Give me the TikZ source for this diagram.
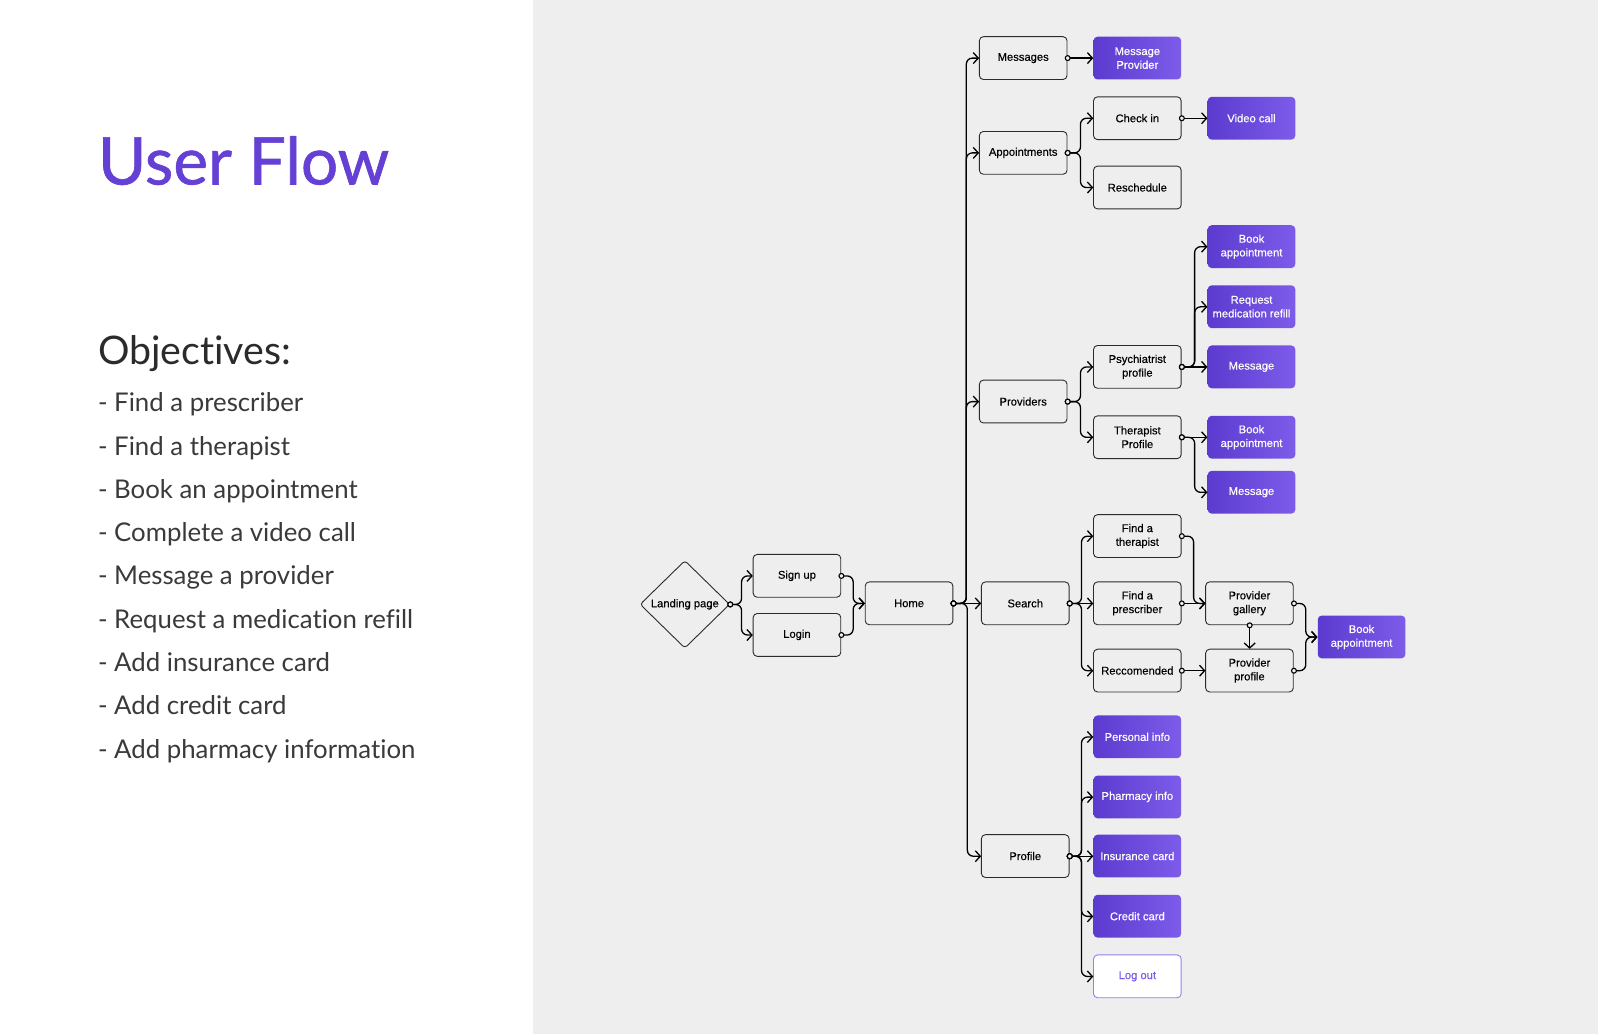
\documentclass[tikz,border=0pt]{standalone}
\usepackage{fontspec}
\setmainfont{Liberation Sans}[FakeBold=0.35]
\newfontfamily\latofont{Lato}[Ligatures=NoCommon]
\newfontfamily\latoheavy{Lato}[Ligatures=NoCommon,FakeBold=0.9]
\usepackage{tikz}
\usetikzlibrary{positioning}
\usetikzlibrary{arrows.meta,shapes.geometric}
\usetikzlibrary{calc}
\definecolor{panel}{HTML}{EEEEEE}
\definecolor{ink}{HTML}{2B2B2B}
\definecolor{listink}{HTML}{3A3A3A}
\definecolor{purpleL}{HTML}{5B3BCF}
\definecolor{purpleR}{HTML}{7D5CEA}
\definecolor{titlepurple}{HTML}{6440D4}
\tikzstyle{screen}=[rectangle,rounded corners=4pt,draw=ink,fill=panel,line width=0.9pt,minimum width=86pt,minimum height=42pt,inner sep=1pt,align=center,font=\fontsize{11}{13.5}\selectfont,text=black]
\tikzstyle{action}=[screen,draw=none,left color=purpleL,right color=purpleR,text=white]
\tikzstyle{exitbox}=[screen,draw=purpleR!80,fill=white,text=purpleR]
\tikzstyle{decision}=[diamond,rounded corners=3pt,draw=ink,fill=panel,line width=0.9pt,minimum width=88pt,minimum height=86pt,inner sep=0pt,font=\fontsize{11}{13.5}\selectfont]
\tikzstyle{link}=[draw,line width=1.3pt,rounded corners=6pt,shorten <=-3pt,{Circle[fill=panel,length=6pt,width=6pt,line width=1.1pt]}-{Straight Barb[length=5pt,width=11pt]}]
\tikzstyle{goal}=[anchor=base west,inner sep=0pt,text=listink,font=\latofont\fontsize{25.3}{30}\selectfont]

\begin{document}
\begin{tikzpicture}[x=1pt,y=-1pt,scale=1.0191,every node/.append style={transform shape}]
    % Background panels
    \fill[white] (0,0) rectangle (523,1014.6);
    \fill[panel] (523,0) rectangle (1568,1014.6);
    \useasboundingbox (0,0) rectangle (1568,1014.6);

    % Left side text
    \node[anchor=base west,inner sep=0pt,text=titlepurple,font=\latoheavy\fontsize{64.5}{70}\selectfont] (title) at (96,181) {User Flow};
    \node[anchor=base west,inner sep=0pt,text=ink,font=\latofont\fontsize{38.6}{44}\selectfont] (objectives) at (96,358) {Objectives:};
    \foreach \i/\goaltext in {0/Find a prescriber, 1/Find a therapist, 2/Book an appointment, 3/Complete a video call, 4/Message a provider, 5/Request a medication refill, 6/Add insurance card, 7/Add credit card, 8/Add pharmacy information}
        \node[goal] (goal\i) at (96,404+42.5*\i) {- \goaltext};

    % First we draw the screens
    \node[decision] (land) at (672,593) {Landing page};
    \foreach \pos/\name/\label in {{(782,565)/signup/Sign up}, {(782,623)/login/Login}, {(892,592)/home/Home}, {(1004,57)/msgs/Messages}, {(1004,150)/appts/Appointments}, {(1004,394)/provs/Providers}, {(1006,592)/search/Search}, {(1006,840)/profile/Profile}, {(1116,116)/checkin/Check in}, {(1116,184)/resched/Reschedule}, {(1116,360)/psych/{Psychiatrist\\profile}}, {(1116,429)/ther/{Therapist\\Profile}}, {(1116,526)/findther/{Find a\\therapist}}, {(1116,592)/findpres/{Find a\\prescriber}}, {(1116,658)/recc/Reccomended}, {(1226,592)/gallery/{Provider\\gallery}}, {(1226,658)/provprof/{Provider\\profile}}}
        \node[screen] (\name) at \pos {\label};
    % Then the actions
    \foreach \pos/\name/\label in {{(1116,57)/msgprov/{Message\\Provider}}, {(1228,116)/video/Video call}, {(1228,242)/bookA/{Book\\appointment}}, {(1228,301)/refill/{Request\\medication refill}}, {(1228,360)/msgA/Message}, {(1228,429)/bookB/{Book\\appointment}}, {(1228,483)/msgB/Message}, {(1336,625)/bookC/{Book\\appointment}}, {(1116,723)/personal/Personal info}, {(1116,782)/pharmacy/Pharmacy info}, {(1116,840)/insurance/Insurance card}, {(1116,899)/credit/Credit card}}
        \node[action] (\name) at \pos {\label};
    \node[exitbox] (logout) at (1116,958) {Log out};

    % Connect screens with links: bent ones
    \foreach \source/\dest in {land/signup, land/login, signup/home, login/home, home/msgs, home/appts, home/provs, home/profile, appts/checkin, appts/resched, provs/psych, provs/ther, psych/bookA, psych/refill, ther/msgB, search/findther, search/recc, findther/gallery, gallery/bookC, provprof/bookC, profile/personal, profile/pharmacy, profile/credit, profile/logout}
        \path[link] (\source.east) -| ($(\source.east)!.5!(\dest.west)$) |- (\dest.west);
    % straight ones
    \foreach \source/\dest in {home/search, msgs/msgprov, checkin/video, psych/msgA, ther/bookB, search/findpres, findpres/gallery, recc/provprof, profile/insurance}
        \path[link] (\source.east) -- (\dest.west);
    \path[link] (gallery.south) -- (provprof.north);
\end{tikzpicture}
\end{document}
